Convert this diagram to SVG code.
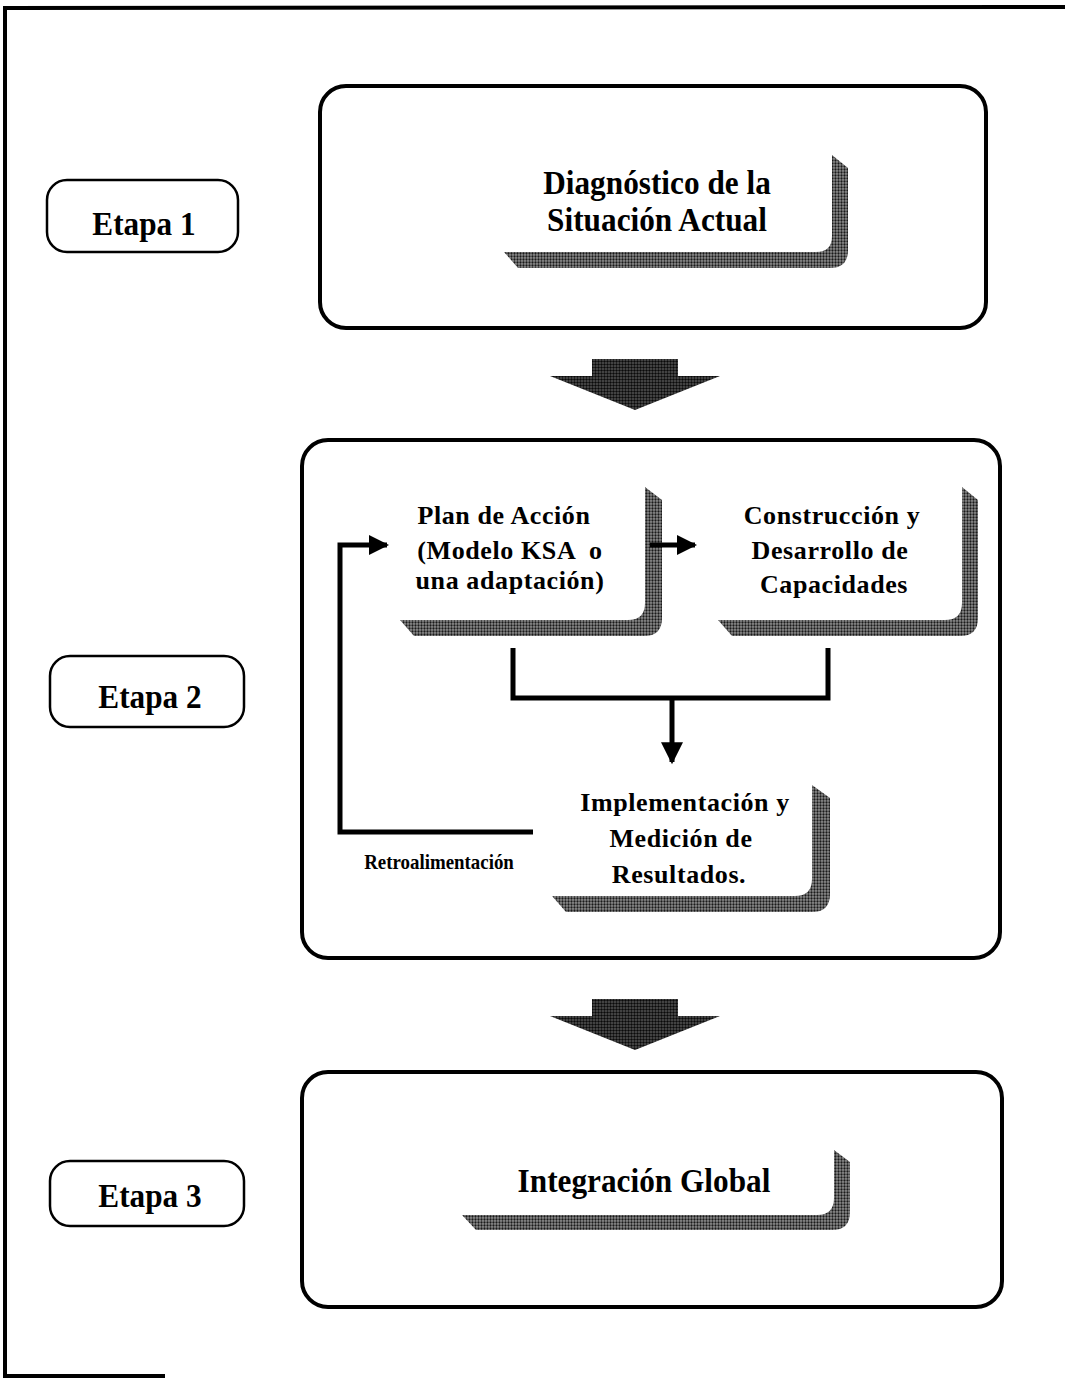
<svg xmlns="http://www.w3.org/2000/svg" width="1065" height="1378" viewBox="0 0 1065 1378">
<defs>
<pattern id="dots" width="3" height="3" patternUnits="userSpaceOnUse">
<rect width="3" height="3" fill="#8f8f8f"/>
<circle cx="1.5" cy="1.5" r="1.15" fill="#1a1a1a"/>
</pattern>
<pattern id="dotsDark" width="3" height="3" patternUnits="userSpaceOnUse">
<rect width="3" height="3" fill="#555"/>
<circle cx="1.5" cy="1.5" r="1.2" fill="#0a0a0a"/>
</pattern>
<marker id="ah" viewBox="0 0 10 10" refX="9" refY="5" markerWidth="4" markerHeight="4" orient="auto" markerUnits="strokeWidth">
<path d="M0,0 L10,5 L0,10 Z" fill="#000"/>
</marker>
<marker id="ahd" viewBox="0 0 10 10" refX="9" refY="5" markerWidth="5" markerHeight="4.4" orient="auto" markerUnits="strokeWidth">
<path d="M0,0 L10,5 L0,10 Z" fill="#000"/>
</marker>
</defs>
<style>
.frame{fill:none;stroke:#000;stroke-width:4}
.box{fill:#fff;stroke:#000;stroke-width:4}
.stage{fill:#fff;stroke:#000;stroke-width:2.5}
.t{font-family:"Liberation Serif","Times New Roman",serif;font-weight:bold;fill:#000;text-anchor:middle}
.big{font-size:34px}
.mid{font-size:26px;letter-spacing:0.6px}
.small{font-size:21px}
.sh{fill:url(#dots)}
.conn{fill:none;stroke:#000;stroke-width:5}
.bigarrow{fill:url(#dotsDark)}
</style>
<rect width="1065" height="1378" fill="#fff"/>
<!-- outer frame -->
<path class="frame" d="M1065,7 L5,8 L5,1376 L165,1376"/>

<!-- stage labels -->
<g id="etapa1">
<rect class="stage" x="47" y="180" width="191" height="72" rx="20"/>
<text class="t big" transform="translate(144,235) scale(0.92,1)">Etapa 1</text>
</g>
<g id="etapa2">
<rect class="stage" x="50" y="656" width="194" height="71" rx="20"/>
<text class="t big" transform="translate(150,708) scale(0.92,1)">Etapa 2</text>
</g>
<g id="etapa3">
<rect class="stage" x="50" y="1161" width="194" height="65" rx="20"/>
<text class="t big" transform="translate(150,1207) scale(0.92,1)">Etapa 3</text>
</g>

<!-- stage 1 box -->
<g id="diagnostico">
<rect class="box" x="320" y="86" width="666" height="242" rx="26"/>
<path class="sh" d="M832,155 L848,168 L848,250 Q848,268 830,268 L518,268 L504,252 L816,252 Q832,252 832,236 Z"/>
<text class="t big" transform="translate(657,194) scale(0.92,1)">Diagnóstico de la</text>
<text class="t big" transform="translate(657,231) scale(0.92,1)">Situación Actual</text>
</g>

<!-- big arrow 1 -->
<g id="flecha1">
<path class="bigarrow" d="M592,359 L678,359 L678,376 L720,376 L635,410 L550,376 L592,376 Z"/>
</g>

<!-- stage 2 box -->
<g id="etapa2box">
<rect class="box" x="302" y="440" width="698" height="518" rx="26"/>
</g>

<g id="plan">
<path class="sh" d="M645,487 L662,500 L662,618 Q662,636 644,636 L414,636 L400,620 L628,620 Q645,620 645,603 Z"/>
<text class="t mid" x="504" y="524">Plan de Acción</text>
<text class="t mid" x="510" y="559" xml:space="preserve">(Modelo KSA  o</text>
<text class="t mid" x="510" y="589">una adaptación)</text>
</g>

<g id="construccion">
<path class="sh" d="M962,487 L978,500 L978,618 Q978,636 960,636 L732,636 L718,620 L945,620 Q962,620 962,603 Z"/>
<text class="t mid" x="832" y="524">Construcción y</text>
<text class="t mid" x="830" y="559">Desarrollo de</text>
<text class="t mid" x="834" y="593">Capacidades</text>
</g>

<g id="implementacion">
<path class="sh" d="M812,785 L830,798 L830,894 Q830,912 812,912 L566,912 L552,896 L795,896 Q812,896 812,879 Z"/>
<text class="t mid" x="685" y="811">Implementación y</text>
<text class="t mid" x="681" y="847">Medición de</text>
<text class="t mid" x="679" y="883">Resultados.</text>
</g>

<!-- connectors -->
<g id="connectors">
<line class="conn" x1="650" y1="545" x2="695" y2="545" marker-end="url(#ah)"/>
<polyline class="conn" points="533,832 340,832 340,545 387,545" marker-end="url(#ah)"/>
<polyline class="conn" points="513,648 513,698 828,698 828,648"/>
<line class="conn" x1="672" y1="698" x2="672" y2="762" marker-end="url(#ahd)"/>
</g>
<text class="t small" transform="translate(439,869) scale(0.9,1)">Retroalimentación</text>

<!-- big arrow 2 -->
<g id="flecha2">
<path class="bigarrow" d="M592,999 L678,999 L678,1016 L720,1016 L635,1050 L550,1016 L592,1016 Z"/>
</g>

<!-- stage 3 box -->
<g id="integracion">
<rect class="box" x="302" y="1072" width="700" height="235" rx="26"/>
<path class="sh" d="M834,1150 L850,1162 L850,1212 Q850,1230 832,1230 L476,1230 L462,1215 L817,1215 Q834,1215 834,1198 Z"/>
<text class="t big" transform="translate(644,1192) scale(0.92,1)">Integración Global</text>
</g>
</svg>
